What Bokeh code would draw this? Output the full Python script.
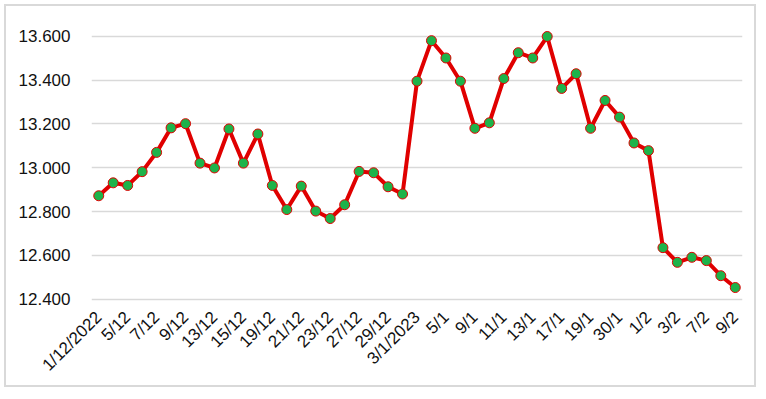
import math
from bokeh.plotting import figure
from bokeh.models import FixedTicker, ColumnDataSource
from bokeh.embed import file_html
from bokeh.resources import INLINE

dates = ["1/12/2022", "2/12", "5/12", "6/12", "7/12", "8/12", "9/12", "12/12", "13/12", "14/12",
         "15/12", "16/12", "19/12", "20/12", "21/12", "22/12", "23/12", "26/12", "27/12", "28/12",
         "29/12", "30/12", "3/1/2023", "4/1", "5/1", "6/1", "9/1", "10/1", "11/1", "12/1",
         "13/1", "16/1", "17/1", "18/1", "19/1", "20/1", "30/1", "31/1", "1/2", "2/2",
         "3/2", "6/2", "7/2", "8/2", "9/2"]
values = [12872, 12931, 12919, 12982, 13070, 13182, 13201, 13021, 12999, 13177,
          13021, 13154, 12919, 12809, 12916, 12802, 12768, 12831, 12983, 12977,
          12913, 12880, 13395, 13580, 13501, 13395, 13180, 13205, 13407, 13525,
          13501, 13599, 13362, 13429, 13180, 13307, 13231, 13113, 13078, 12635,
          12568, 12591, 12576, 12507, 12453]
y_ticks = [12400, 12600, 12800, 13000, 13200, 13400, 13600]
y_tick_labels = ["12.400", "12.600", "12.800", "13.000", "13.200", "13.400", "13.600"]

idx = list(range(len(dates)))
src = ColumnDataSource(dict(x=idx, y=values))

p = figure(width=752, height=383, output_backend="svg", toolbar_location=None,
           x_range=(-0.5, 44.5), y_range=(12371, 13631),
           min_border_left=85, min_border_right=16, min_border_top=23, min_border_bottom=84)
p.styles = {"margin": "4px 0 0 4px", "border": "2px solid #d9d9d9"}
p.outline_line_color = None
p.background_fill_color = "white"
p.border_fill_color = "white"

p.line("x", "y", source=src, line_color="#e00000", line_width=4, line_join="round")
p.scatter("x", "y", source=src, size=10, fill_color="#1db34a", line_color="#e00000", line_width=1)

p.yaxis.ticker = FixedTicker(ticks=y_ticks)
p.yaxis.major_label_overrides = {t: l for t, l in zip(y_ticks, y_tick_labels)}
p.yaxis.major_label_standoff = 15
p.xaxis.ticker = FixedTicker(ticks=idx[::2])
p.xaxis.major_label_overrides = {i: dates[i] for i in idx[::2]}
p.xaxis.major_label_orientation = math.pi / 4
p.xaxis.major_label_standoff = 3

for ax in (p.xaxis, p.yaxis):
    ax.axis_line_color = None
    ax.major_tick_line_color = None
    ax.minor_tick_line_color = None
    ax.major_label_text_font = "Liberation Sans"
    ax.major_label_text_font_size = "17px"
    ax.major_label_text_color = "#111111"

p.xgrid.grid_line_color = None
p.ygrid.ticker = FixedTicker(ticks=y_ticks)
p.ygrid.grid_line_color = "#d9d9d9"
p.ygrid.grid_line_width = 1.5

open("out.html", "w").write(file_html(p, INLINE))
